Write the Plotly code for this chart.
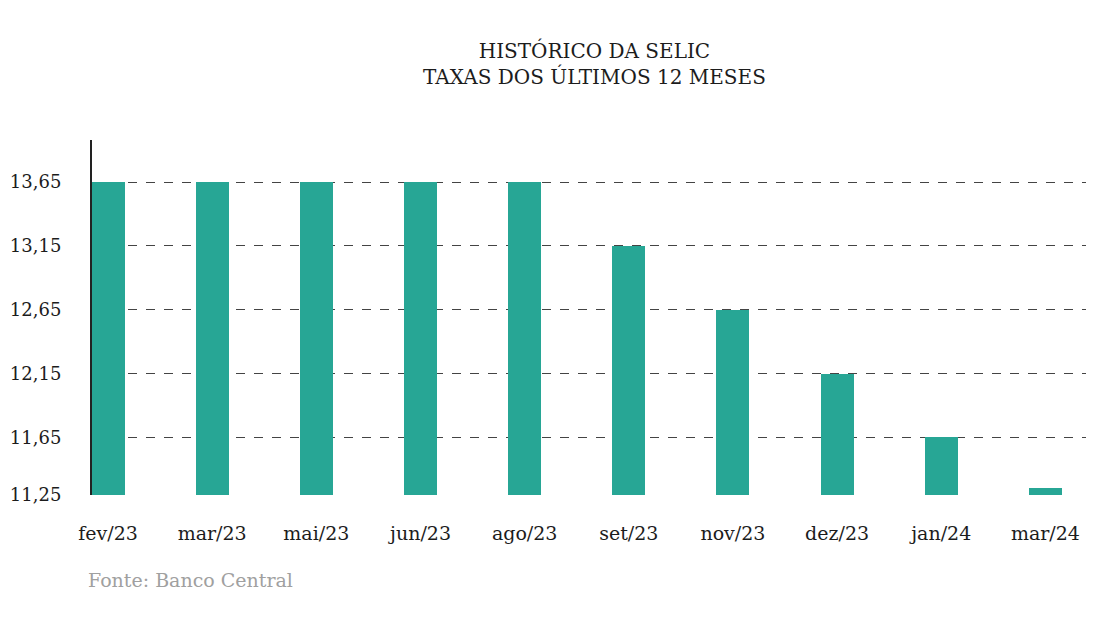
import plotly.graph_objects as go

meses = ["fev/23", "mar/23", "mai/23", "jun/23", "ago/23", "set/23", "nov/23", "dez/23", "jan/24", "mar/24"]
selic = [13.65, 13.65, 13.65, 13.65, 13.65, 13.15, 12.65, 12.15, 11.65, 11.25]
tick_pos = [11.2, 11.65, 12.15, 12.65, 13.15, 13.65]
tick_labels = ["11,25", "11,65", "12,15", "12,65", "13,15", "13,65"]

FONT = "DejaVu Serif"
INK = "#1c1c1c"

fig = go.Figure(go.Bar(
    x=meses, y=selic, marker=dict(color="#27A695", line=dict(width=0)),
    width=0.317, hoverinfo="x+y",
))

fig.update_layout(
    width=1107, height=618,
    margin=dict(l=92, r=21, t=140, b=123, autoexpand=False),
    paper_bgcolor="white", plot_bgcolor="white",
    showlegend=False,
    font=dict(family=FONT, color=INK, size=18),
    title=dict(
        text="HISTÓRICO DA SELIC<br>TAXAS DOS ÚLTIMOS 12 MESES",
        x=0.537, xanchor="center", y=0.906, yanchor="top",
        font=dict(family=FONT, size=20, color=INK),
    ),
    bargap=0,
)

fig.update_xaxes(
    type="category", range=[-0.154, 9.39], automargin=False,
    showgrid=False, showline=False, zeroline=False,
    ticks="", ticklabelstandoff=25,
    tickfont=dict(family=FONT, size=19, color=INK),
)
fig.update_yaxes(
    range=[11.199, 13.979], automargin=False,
    tickvals=tick_pos, ticktext=tick_labels,
    showgrid=True, gridcolor="#444444", gridwidth=1, griddash="dash",
    showline=True, linecolor="#222222", linewidth=2,
    zeroline=False, ticks="", ticklabelstandoff=25,
    tickfont=dict(family=FONT, size=18, color=INK),
)

fig.add_annotation(
    text="Fonte: Banco Central", xref="paper", yref="paper",
    x=-0.006, xanchor="left", y=-0.239, yanchor="middle",
    showarrow=False, font=dict(family=FONT, size=19, color="#A0A0A0"),
)

fig.write_html("out.html")
